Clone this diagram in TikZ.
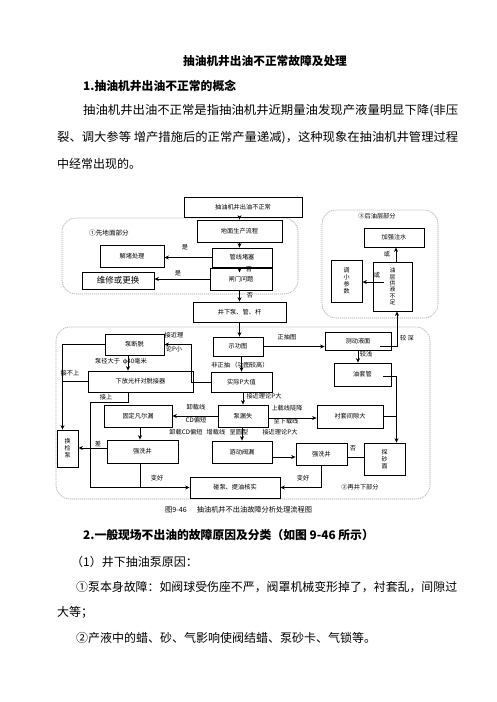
\documentclass[tikz,border=0pt]{standalone}
\usepackage{fontspec}
\setmainfont{Noto Sans CJK SC}
\usepackage{graphicx}
\usetikzlibrary{arrows.meta,calc}
\tikzset{>={Stealth[length=4.5pt,width=4pt]},
  box/.style={draw,line width=.8pt,inner sep=0pt,font=\fontsize{6.2}{7}\selectfont},
  vbox/.style={box,align=center,font=\fontsize{6}{7}\selectfont},
  lbl/.style={inner sep=0pt,font=\fontsize{6.2}{7}\selectfont},
  region/.style={draw=gray!70,dash pattern=on 1.2pt off .8pt,line width=.6pt,rounded corners=14pt},
  txt/.style={inner sep=0pt,anchor=west,font=\fontsize{12}{14}\selectfont},
  conn/.style={line width=.8pt}}

\begin{document}
\begin{tikzpicture}[x=1pt,y=-1pt]
\path[use as bounding box,fill=white] (0,0) rectangle (496,702);
% page text
\node[inner sep=0pt,font=\fontsize{11.7}{13}\selectfont\bfseries] (title) at (265,61) {抽油机井出油不正常故障及处理};
\node[txt,font=\fontsize{11.8}{14}\selectfont\bfseries] (h1) at (83,86) {1.抽油机井出油不正常的概念};
\node[txt] (p1) at (83,111) {\resizebox{375pt}{\height}{抽油机井出油不正常是指抽油机井近期量油发现产液量明显下降(非压}};
\node[txt] (p2) at (57,138) {\resizebox{401pt}{\height}{裂、调大参等 增产措施后的正常产量递减)，这种现象在抽油机井管理过程}};
\node[txt] (p3) at (57,164) {中经常出现的。};

% dashed parts
\draw[region] (62,218) rectangle (298,294);
\node[lbl,font=\fontsize{6.6}{7}\selectfont] (r1) at (109,233) {①先地面部分};
\draw[region] (322,210) rectangle (438,318);
\node[lbl] (r3) at (377,216) {③后油层部分};
\draw[region] (56,327) rectangle (430,499);
\node[lbl] (r2) at (360,487) {②再井下部分};

% boxes
\node[box,minimum width=118,minimum height=20] (abn) at (243,207) {抽油机井出油不正常};
\node[box,minimum width=85,minimum height=22] (dmlc) at (239.5,231) {地面生产流程};
\node[box,minimum width=60,minimum height=19] (gxds) at (242,257.5) {管线堵塞};
\node[box,minimum width=62,minimum height=22] (zmwt) at (241,279) {闸门问题};
\node[box,minimum width=64,minimum height=22] (jdcl) at (132,256) {解堵处理};
\node[box,minimum width=72,minimum height=17,font=\fontsize{8.5}{9}\selectfont] (wxgh) at (118,280.5) {维修或更换};
\node[box,minimum width=93,minimum height=20] (jxb) at (239.5,312) {井下泵、管、杆};
\node[box,minimum width=60,minimum height=19] (jqzs) at (394,237.5) {加强注水};
\node[vbox,minimum width=31,minimum height=42] (txcs) at (346.5,281) {调\\小\\参\\数};
\node[vbox,minimum width=39,minimum height=49,font=\fontsize{5.8}{6.4}\selectfont] (gybz) at (392.5,286.5) {油\\层\\供\\液\\不\\足};
\node[box,minimum width=50,minimum height=19] (sgt) at (238,346.5) {示功图};
\node[box,minimum width=66,minimum height=18] (cdym) at (358,341) {测动液面};
\node[box,minimum width=57,minimum height=23] (ytg) at (362.5,374.5) {油套管};
\node[box,minimum width=61,minimum height=20] (sjp) at (241.5,382) {实际P大值};
\node[box,minimum width=59,minimum height=21] (bdt) at (134.5,344.5) {泵断脱};
\node[box,minimum width=105,minimum height=21] (xfg) at (140.5,381.5) {下放光杆对脱接器};
\node[vbox,minimum width=21,minimum height=37] (hjb) at (67.5,448.5) {换\\检\\泵};
\node[box,minimum width=68,minimum height=22] (gdfe) at (138,416) {固定凡尔漏};
\node[box,minimum width=71,minimum height=23] (qxja) at (142.5,451.5) {强洗井};
\node[box,minimum width=50,minimum height=22] (bls) at (243,416) {泵漏失};
\node[box,minimum width=60,minimum height=22] (ydfl) at (242,452) {游动阀漏};
\node[box,minimum width=66,minimum height=23] (ctjx) at (350,416.5) {衬套间隙大};
\node[vbox,minimum width=41,minimum height=32] (tsm) at (384.5,459) {探\\砂\\面};
\node[box,minimum width=51,minimum height=22] (qxjb) at (321.5,454) {强洗井};
\node[box,minimum width=90,minimum height=21] (pb) at (235,487.5) {碰泵、提油核实};

% ground part
\draw[conn,->] (abn.south -| dmlc) -- (dmlc.north);
\draw[conn,->] (dmlc.south) -- (dmlc.south |- gxds.north);
\draw[conn,->] (gxds.south -| dmlc) -- ++(0,5);
\node[lbl] at (249,269) {否};
\draw[conn,->] (zmwt.south -| dmlc) -- (dmlc |- jxb.north);
\node[lbl] at (250,295) {否};
\draw[conn,->] (gxds.west) -- (gxds.west -| jdcl.east);
\node[lbl] at (185,247) {是};
\draw[conn,->] (zmwt.west) -- (zmwt.west -| wxgh.east);
\node[lbl] at (178,273) {是};

% reservoir part
\coordinate (cdr) at (380,346);
\draw[conn,->] (cdr) -| ([xshift=4.5pt]gybz.south);
\node[lbl] at (407,338) {较\ 深};
\draw[conn,->] ([xshift=3.5pt]gybz.north) -- ([xshift=3.5pt]gybz.north |- jqzs.south);
\node[lbl] at (387,254) {或};
\draw[conn,->] ([xshift=11pt,yshift=4.5pt]gybz.west) -- ([yshift=4.5pt]gybz.west -| txcs.east);
\node[lbl] at (377,275) {或};

% downhole part
\draw[conn,->] (jxb.south -| dmlc) -- (dmlc |- sgt.north);
\draw[conn,->] (sgt.east) -- (sgt.east -| cdym.west);
\node[lbl] at (287,337) {正抽图};
\draw[conn,->] (cdym.south) -- (cdym.south |- ytg.north);
\node[lbl] at (366,354) {较浅};
\draw[conn,->] (sgt.south -| sjp) -- (sjp.north);
\node[lbl] at (240,365) {非正抽 （功图较高）};
\draw[conn,->] (sjp.west) -- ++(-19,0) |- (bdt.east);
\node[lbl] at (174,335) {接近理};
\node[lbl] at (174,349) {论P小};
\draw[conn,->] ([xshift=-6.5pt]bdt.south) -- ([xshift=-6.5pt]bdt.south |- xfg.north);
\node[lbl] at (121,361) {泵径大于\ \ φ40毫米};
\coordinate (lft) at ([xshift=-5pt]hjb.north);
\draw[conn,->] (bdt.west) -| (lft);
\draw[conn] (xfg.west) -- (xfg.west -| lft);
\node[lbl] at (70,373) {接不上};
\coordinate (lb) at (90,487.5);
\draw[conn,->] ([xshift=-12.5pt]xfg.south) -- ++(0,10) -| (lb) -- (pb.west);
\node[lbl] at (106,397) {接上};
\draw[conn,->] ([xshift=2pt]gdfe.south) -- ([xshift=2pt]gdfe.south |- qxja.north);
\draw[conn,->] ([yshift=3.5pt]qxja.west) -- ([yshift=3.5pt]qxja.west -| hjb.east);
\node[lbl] at (98,444) {差};
\draw[conn] ([xshift=-2.5pt]qxja.south) -- ([xshift=-2.5pt]qxja.south |- pb.west);
\node[lbl] at (157,478) {变好};
\draw[conn,->] (sjp.south -| bls) -- (bls.north);
\node[lbl] at (264,396) {接近理论P大};
\draw[conn,->] (bls.west) -- (bls.west -| gdfe.east);
\node[lbl] at (196,407) {卸载线};
\node[lbl] at (196,420) {CD偏短};
\node[lbl] at (186,432) {卸载CD偏短};
\node[lbl] at (216,432) {增载线};
\node[lbl] at (239,432) {呈圆型};
\draw[conn,->] (bls.south -| ydfl) -- (ydfl.north);
\draw[conn,->] ([yshift=-2pt]bls.east) -- ([yshift=-2pt]bls.east -| ctjx.west);
\node[lbl] at (287,408) {上载线陡降};
\node[lbl] at (286,421) {至下载线};
\node[lbl] at (280,432) {接近理论P大};
\coordinate (ytr) at (383,376);
\draw[conn,->] (ytr) -| ([xshift=12pt]tsm.north);
\draw[conn] (ctjx.east) -- ([xshift=12pt]tsm.north |- ctjx.east);
\draw[conn,->] ([yshift=-5pt]ydfl.east) -- ([yshift=-5pt]ydfl.east -| qxjb.west);
\draw[conn] ([yshift=2pt]tsm.west) -- ([yshift=2pt]tsm.west -| qxjb.east);
\node[lbl] at (353,448) {否};
\draw[conn,->] (qxjb.south) |- (pb.east);
\node[lbl] at (303,478) {变好};

\node[lbl,font=\fontsize{7.2}{8}\selectfont,anchor=west] (cap) at (165,510) {图9-46\hspace{10pt}抽油机井不出油故障分析处理流程图};

% section 2
\node[txt,font=\fontsize{11.8}{14}\selectfont\bfseries] (h2) at (83,535) {2.一般现场不出油的故障原因及分类（如图 9-46 所示）};
\node[txt] (q1) at (71,562) {（1）井下抽油泵原因：};
\node[txt] (q2) at (76,587) {\resizebox{381pt}{\height}{①泵本身故障：如阀球受伤座不严，阀罩机械变形掉了，衬套乱，间隙过}};
\node[txt] (q3) at (57,612) {大等；};
\node[txt] (q4) at (76,638) {②产液中的蜡、砂、气影响使阀结蜡、泵砂卡、气锁等。};
\end{tikzpicture}
\end{document}
